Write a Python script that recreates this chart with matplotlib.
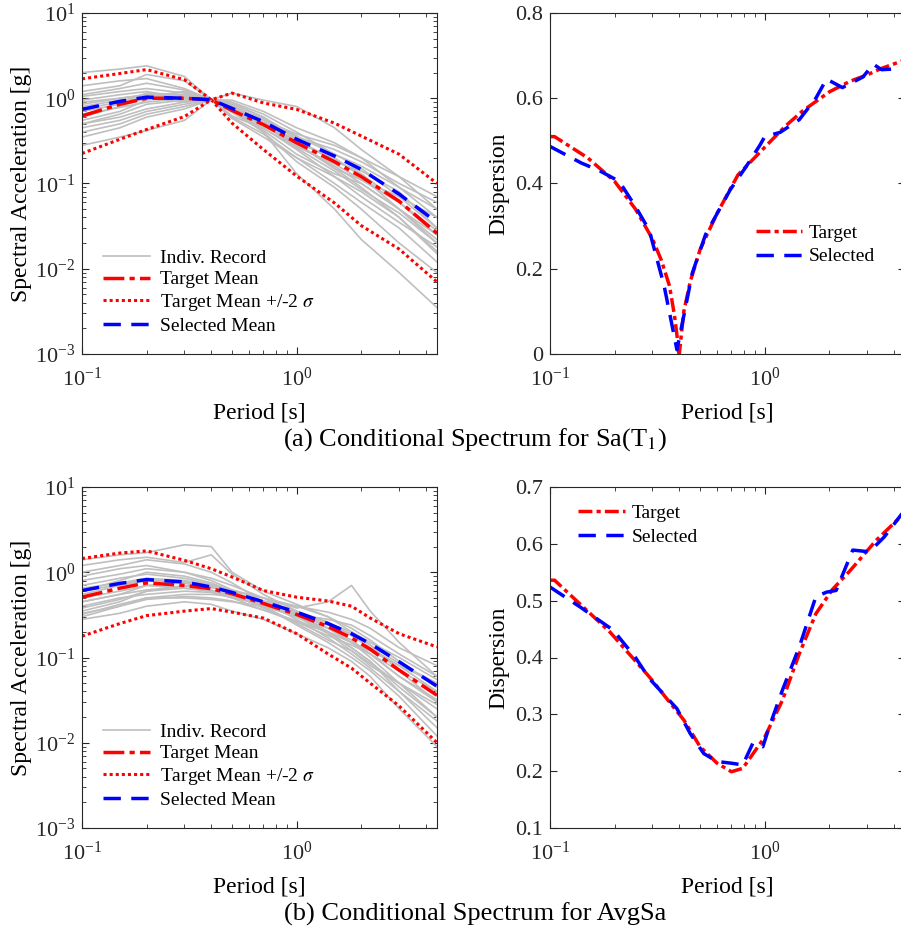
import numpy as np
import matplotlib
matplotlib.use("Agg")
import matplotlib.pyplot as plt
from matplotlib.ticker import FormatStrFormatter, LogLocator

plt.rcParams['font.family'] = ['Liberation Serif', 'DejaVu Serif']
plt.rcParams['mathtext.fontset'] = 'stix'

# ---------------- (a) Conditional spectrum for Sa(T1) ----------------
periods_a = [0.1, 0.15, 0.2, 0.3, 0.4, 0.5, 0.7, 1.0, 1.5, 2.0, 3.0, 4.5]
target_mean_a = [0.62, 0.85, 1.0, 1.0, 0.96, 0.72, 0.49, 0.30, 0.18, 0.12, 0.062, 0.026]
target_upper_a = [1.69, 1.95, 2.17, 1.65, 0.96, 1.15, 0.88, 0.74, 0.51, 0.36, 0.22, 0.10]
target_lower_a = [0.225, 0.33, 0.43, 0.61, 0.96, 0.51, 0.25, 0.122, 0.059, 0.032, 0.017, 0.0070]
selected_mean_a = [0.74, 0.92, 1.03, 1.0, 0.96, 0.76, 0.53, 0.33, 0.21, 0.146, 0.075, 0.035]

records_a = [
    [2.0, 2.2, 2.4, 1.8, 0.96, 0.75, 0.55, 0.30, 0.15, 0.09, 0.04, 0.015],
    [1.2, 1.4, 1.9, 1.6, 0.96, 1.15, 0.95, 0.80, 0.45, 0.25, 0.12, 0.05],
    [0.28, 0.35, 0.42, 0.55, 0.96, 0.80, 0.40, 0.13, 0.05, 0.022, 0.009, 0.0035],
    [0.9, 1.0, 1.1, 1.05, 0.96, 0.70, 0.45, 0.25, 0.12, 0.07, 0.035, 0.018],
    [0.6, 0.8, 1.0, 1.2, 0.96, 0.60, 0.38, 0.20, 0.10, 0.06, 0.03, 0.012],
    [0.45, 0.55, 0.7, 0.85, 0.96, 0.90, 0.65, 0.40, 0.22, 0.15, 0.07, 0.03],
    [0.75, 0.9, 1.15, 1.1, 0.96, 0.78, 0.50, 0.30, 0.20, 0.12, 0.05, 0.022],
    [1.05, 1.2, 1.3, 1.15, 0.96, 0.68, 0.42, 0.22, 0.13, 0.10, 0.05, 0.025],
    [0.5, 0.65, 0.85, 0.95, 0.96, 0.85, 0.60, 0.35, 0.25, 0.18, 0.10, 0.06],
    [0.35, 0.45, 0.6, 0.75, 0.96, 0.70, 0.40, 0.18, 0.09, 0.05, 0.02, 0.009],
    [0.8, 0.95, 1.0, 0.9, 0.96, 0.82, 0.55, 0.38, 0.28, 0.20, 0.12, 0.07],
    [1.4, 1.6, 1.7, 1.3, 0.96, 0.72, 0.48, 0.28, 0.16, 0.10, 0.05, 0.02],
    [0.65, 0.78, 0.9, 1.0, 0.96, 0.75, 0.52, 0.32, 0.19, 0.13, 0.06, 0.028],
    [0.55, 0.7, 0.95, 1.1, 0.96, 0.62, 0.44, 0.27, 0.17, 0.11, 0.07, 0.04],
    [0.95, 1.1, 1.2, 1.0, 0.96, 0.88, 0.60, 0.33, 0.18, 0.14, 0.08, 0.03],
    [0.4, 0.5, 0.65, 0.8, 0.96, 0.95, 0.70, 0.45, 0.30, 0.20, 0.09, 0.04],
    [0.7, 0.85, 1.05, 1.2, 0.96, 0.58, 0.35, 0.20, 0.12, 0.08, 0.04, 0.016],
    [1.1, 1.3, 1.5, 1.25, 0.96, 0.80, 0.50, 0.26, 0.14, 0.085, 0.045, 0.02],
    [0.5, 0.6, 0.75, 0.9, 0.96, 0.78, 0.58, 0.36, 0.22, 0.16, 0.09, 0.05],
    [0.85, 1.0, 1.1, 1.0, 0.96, 0.70, 0.50, 0.29, 0.15, 0.11, 0.06, 0.025],
]

disp_periods_a = [0.1, 0.105, 0.15, 0.2, 0.25, 0.3, 0.33, 0.36, 0.38, 0.4, 0.42, 0.45, 0.5,
                  0.6, 0.75, 1.0, 1.25, 1.5, 2.0, 2.5, 3.0, 3.5, 4.5]
target_disp_a = [0.51, 0.51, 0.46, 0.405, 0.34, 0.27, 0.22, 0.16, 0.09, 0.0, 0.10, 0.17, 0.245,
                 0.33, 0.42, 0.485, 0.535, 0.57, 0.615, 0.64, 0.655, 0.67, 0.69]
sel_disp_periods_a = [0.1, 0.14, 0.17, 0.21, 0.25, 0.29, 0.34, 0.39, 0.42, 0.46, 0.53, 0.69,
                      0.82, 0.95, 1.0, 1.18, 1.45, 1.73, 1.94, 2.3, 2.87, 3.2, 3.5, 4.5]
selected_disp_a = [0.487, 0.448, 0.43, 0.405, 0.346, 0.29, 0.16, 0.01, 0.09, 0.19, 0.28, 0.385,
                   0.44, 0.49, 0.51, 0.52, 0.55, 0.60, 0.645, 0.625, 0.65, 0.68, 0.667, 0.67]

# ---------------- (b) Conditional spectrum for AvgSa ----------------
periods_b = [0.1, 0.15, 0.2, 0.3, 0.4, 0.5, 0.7, 1.0, 1.4, 1.8, 2.2, 3.0, 4.5]
target_mean_b = [0.51, 0.65, 0.75, 0.70, 0.64, 0.56, 0.43, 0.32, 0.23, 0.17, 0.125, 0.071, 0.036]
target_upper_b = [1.45, 1.68, 1.78, 1.38, 1.10, 0.88, 0.61, 0.51, 0.46, 0.40, 0.29, 0.19, 0.133]
target_lower_b = [0.178, 0.25, 0.31, 0.35, 0.375, 0.34, 0.29, 0.19, 0.11, 0.075, 0.05, 0.027, 0.010]
selected_mean_b = [0.61, 0.74, 0.82, 0.77, 0.67, 0.58, 0.45, 0.34, 0.25, 0.19, 0.145, 0.089, 0.046]

records_b = [
    [1.4, 1.6, 1.7, 2.1, 2.0, 1.0, 0.6, 0.42, 0.3, 0.2, 0.14, 0.07, 0.03],
    [0.3, 0.4, 0.5, 0.55, 0.55, 0.52, 0.46, 0.4, 0.34, 0.28, 0.22, 0.13, 0.08],
    [0.6, 0.8, 1.0, 0.9, 0.75, 0.6, 0.4, 0.24, 0.15, 0.1, 0.07, 0.035, 0.012],
    [0.45, 0.55, 0.62, 0.68, 0.7, 0.62, 0.5, 0.38, 0.45, 0.7, 0.35, 0.15, 0.06],
    [0.28, 0.33, 0.4, 0.45, 0.42, 0.35, 0.28, 0.19, 0.13, 0.09, 0.06, 0.025, 0.009],
    [1.2, 1.4, 1.5, 1.3, 1.6, 0.95, 0.55, 0.35, 0.22, 0.15, 0.1, 0.05, 0.02],
    [0.8, 0.95, 1.1, 1.0, 0.85, 0.7, 0.5, 0.33, 0.2, 0.13, 0.09, 0.045, 0.02],
    [0.35, 0.45, 0.6, 0.65, 0.6, 0.55, 0.45, 0.33, 0.25, 0.2, 0.15, 0.1, 0.055],
    [0.5, 0.6, 0.7, 0.65, 0.6, 0.52, 0.4, 0.3, 0.22, 0.16, 0.11, 0.06, 0.03],
    [0.4, 0.5, 0.55, 0.6, 0.58, 0.5, 0.42, 0.3, 0.2, 0.13, 0.09, 0.04, 0.015],
    [0.65, 0.75, 0.85, 0.8, 0.7, 0.55, 0.38, 0.26, 0.18, 0.14, 0.11, 0.07, 0.04],
    [0.55, 0.7, 0.8, 0.75, 0.62, 0.5, 0.36, 0.27, 0.2, 0.15, 0.12, 0.08, 0.05],
    [1.0, 1.2, 1.4, 1.25, 1.0, 0.75, 0.45, 0.28, 0.17, 0.11, 0.075, 0.04, 0.018],
    [0.32, 0.42, 0.5, 0.5, 0.48, 0.45, 0.4, 0.32, 0.28, 0.24, 0.18, 0.11, 0.06],
    [0.7, 0.85, 0.95, 0.85, 0.72, 0.6, 0.42, 0.3, 0.19, 0.12, 0.08, 0.05, 0.025],
    [0.38, 0.48, 0.6, 0.7, 0.66, 0.6, 0.5, 0.4, 0.3, 0.22, 0.16, 0.09, 0.045],
    [0.9, 1.1, 1.2, 1.0, 0.8, 0.62, 0.4, 0.25, 0.16, 0.12, 0.085, 0.05, 0.028],
    [0.45, 0.55, 0.7, 0.75, 0.7, 0.58, 0.45, 0.35, 0.26, 0.18, 0.13, 0.08, 0.04],
    [0.6, 0.72, 0.82, 0.78, 0.68, 0.55, 0.42, 0.31, 0.24, 0.19, 0.14, 0.085, 0.05],
    [0.33, 0.4, 0.48, 0.52, 0.5, 0.46, 0.36, 0.26, 0.2, 0.15, 0.11, 0.06, 0.032],
]

disp_periods_b = [0.1, 0.105, 0.19, 0.29, 0.42, 0.5, 0.6, 0.7, 0.79, 1.0, 1.21, 1.45, 1.73,
                  2.07, 2.5, 3.3, 4.5]
target_disp_b = [0.536, 0.536, 0.445, 0.366, 0.29, 0.243, 0.214, 0.199, 0.205, 0.26, 0.325,
                 0.407, 0.477, 0.52, 0.553, 0.606, 0.655]
sel_disp_periods_b = [0.1, 0.138, 0.197, 0.25, 0.29, 0.39, 0.45, 0.52, 0.6, 0.7, 0.79, 0.88,
                      0.98, 1.05, 1.21, 1.45, 1.73, 1.94, 2.15, 2.57, 3.07, 3.6, 4.5]
selected_disp_b = [0.524, 0.489, 0.448, 0.40, 0.363, 0.31, 0.266, 0.231, 0.217, 0.214, 0.211,
                   0.249, 0.243, 0.278, 0.343, 0.419, 0.507, 0.515, 0.518, 0.589, 0.586, 0.612, 0.66]

GRAY = (0.75, 0.75, 0.75)
XMAX = 4.5


def style_axes(ax):
    ax.tick_params(which='both', direction='in', top=True, right=True, labelsize=16,
                   colors='#262626')
    ax.tick_params(which='major', length=5)
    ax.tick_params(which='minor', length=3)
    ax.tick_params(axis='x', which='both', pad=10)
    ax.tick_params(axis='y', which='both', pad=5)
    for s in ax.spines.values():
        s.set_color('#262626')
        s.set_linewidth(0.8)


def spectrum_panel(ax, periods, records, t_mean, t_up, t_low, s_mean):
    for i, rec in enumerate(records):
        ax.plot(periods, rec, color=GRAY, lw=1.2, label='Indiv. Record' if i == 0 else None)
    ax.plot(periods, t_mean, color='red', lw=2.5, ls=(0, (6, 1.5, 1.5, 1.5)), label='Target Mean')
    ax.plot(periods, t_up, color='red', lw=2.2, ls=(0, (1, 1)), label='Target Mean +/-2 $\\sigma$')
    ax.plot(periods, t_low, color='red', lw=2.2, ls=(0, (1, 1)))
    ax.plot(periods, s_mean, color='blue', lw=2.5, ls=(0, (5, 3)), label='Selected Mean')
    ax.set_xscale('log')
    ax.set_yscale('log')
    ax.set_xlim(0.1, XMAX)
    ax.set_ylim(1e-3, 1e1)
    ax.yaxis.set_major_locator(LogLocator(base=10, numticks=10))
    ax.yaxis.set_minor_locator(LogLocator(base=10, subs=np.arange(2, 10), numticks=20))
    ax.set_xlabel('Period [s]', fontsize=17, labelpad=8)
    ax.set_ylabel('Spectral Acceleration [g]', fontsize=17, labelpad=2)
    style_axes(ax)
    ax.legend(loc='lower left', bbox_to_anchor=(0.01, 0.005), frameon=False, fontsize=14,
              handlelength=2.4, handletextpad=0.55, labelspacing=0.2, borderaxespad=0.5)


def dispersion_panel(ax, tp, td, sp, sd, ylim, ticks, legend_loc, anchor):
    ax.plot(tp, td, color='red', lw=2.5, ls=(0, (4, 1.2, 1.2, 1.2)), label='Target')
    ax.plot(sp, sd, color='blue', lw=2.5, ls=(0, (5, 3)), label='Selected')
    ax.set_xscale('log')
    ax.set_xlim(0.1, XMAX)
    ax.set_ylim(*ylim)
    ax.set_yticks(ticks)
    ax.yaxis.set_major_formatter(FormatStrFormatter('%g'))
    ax.set_xlabel('Period [s]', fontsize=17, labelpad=8)
    ax.set_ylabel('Dispersion', fontsize=17, labelpad=4)
    style_axes(ax)
    ax.legend(loc=legend_loc, bbox_to_anchor=anchor, frameon=False, fontsize=14,
              handlelength=2.4, handletextpad=0.35, labelspacing=0.3)


fig = plt.figure(figsize=(9.01, 9.33), dpi=100)
W, H = 901.0, 933.0
ax1 = fig.add_axes([82 / W, (H - 354) / H, 355 / W, 341 / H])
ax2 = fig.add_axes([550 / W, (H - 354) / H, 355 / W, 341 / H])
ax3 = fig.add_axes([82 / W, (H - 828) / H, 355 / W, 341 / H])
ax4 = fig.add_axes([550 / W, (H - 828) / H, 355 / W, 341 / H])

spectrum_panel(ax1, periods_a, records_a, target_mean_a, target_upper_a, target_lower_a, selected_mean_a)
spectrum_panel(ax3, periods_b, records_b, target_mean_b, target_upper_b, target_lower_b, selected_mean_b)

dispersion_panel(ax2, disp_periods_a, target_disp_a, sel_disp_periods_a, selected_disp_a,
                 (0, 0.8), [0, 0.2, 0.4, 0.6, 0.8], 'center left', (0.53, 0.32))
dispersion_panel(ax4, disp_periods_b, target_disp_b, sel_disp_periods_b, selected_disp_b,
                 (0.1, 0.7), [0.1, 0.2, 0.3, 0.4, 0.5, 0.6, 0.7], 'upper left', (0.03, 1.0))

fig.text(475 / W, 1 - 440 / H, '(a) Conditional Spectrum for Sa(T$_1$)', ha='center', va='center', fontsize=19)
fig.text(475 / W, 1 - 914 / H, '(b) Conditional Spectrum for AvgSa', ha='center', va='center', fontsize=19)

fig.savefig('out.png', dpi=100)
